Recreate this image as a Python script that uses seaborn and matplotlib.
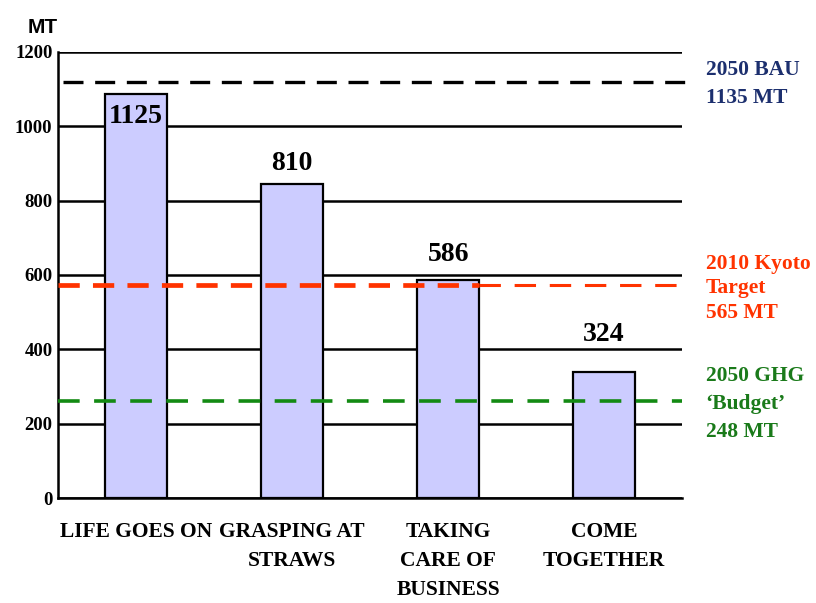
import matplotlib
matplotlib.use("Agg")
import matplotlib.pyplot as plt
import seaborn as sns
import pandas as pd

categories = ["LIFE GOES ON", "GRASPING AT\nSTRAWS", "TAKING\nCARE OF\nBUSINESS", "COME\nTOGETHER"]
bar_heights = [1087, 845, 587, 339]
value_labels = ["1125", "810", "586", "324"]
label_offsets = [-60, 56, 69, 102]   # label centre relative to bar top
y_ticks = [0, 200, 400, 600, 800, 1000, 1200]

bau_level = 1120
kyoto_level = 573
budget_level = 261
bau_text = "2050 BAU\n1135 MT"
kyoto_text = "2010 Kyoto\nTarget\n565 MT"
budget_text = "2050 GHG\n\u2018Budget\u2019\n248 MT"

sns.set_theme(style="white")
plt.rcParams["font.family"] = ["Liberation Serif", "DejaVu Serif"]
plt.rcParams["text.color"] = "black"
plt.rcParams["xtick.color"] = "black"
plt.rcParams["ytick.color"] = "black"
plt.rcParams["xtick.labelcolor"] = "black"
plt.rcParams["ytick.labelcolor"] = "black"

df = pd.DataFrame({"scenario": categories, "mt": bar_heights})

fig = plt.figure(figsize=(8.16, 6.03), dpi=100)
ax = fig.add_axes([0.071, 0.174, 0.765, 0.740])

sns.barplot(data=df, x="scenario", y="mt", color="#CCCCFF", saturation=1,
            edgecolor="black", linewidth=1.6, width=0.40, ax=ax, zorder=2)

ax.set_xlim(-0.5, 3.5)
ax.set_ylim(0, 1200)
ax.set_yticks(y_ticks)
ax.set_yticklabels([str(t) for t in y_ticks], fontsize=13.5, fontweight="bold")
ax.tick_params(axis="y", length=0, pad=4)
ax.yaxis.grid(True, color="black", linewidth=1.8)
ax.set_axisbelow(True)

ax.set_xticks(range(len(categories)))
ax.set_xticklabels(categories, fontsize=15.5, fontweight="bold", linespacing=1.6)
ax.tick_params(axis="x", length=0, pad=17)
ax.set_xticks([0.5, 1.5, 2.5, 3.5], minor=True)
ax.tick_params(axis="x", which="minor", length=6, width=1.5, direction="inout", color="black")
ax.set_xlabel("")
ax.set_ylabel("")

for s in ["top", "right"]:
    ax.spines[s].set_visible(False)
for s in ["left", "bottom"]:
    ax.spines[s].set_color("black")
    ax.spines[s].set_linewidth(1.8)

# value labels
for i, (h, lab, off) in enumerate(zip(bar_heights, value_labels, label_offsets)):
    ax.text(i, h + off, lab, ha="center", va="center", fontsize=20,
            fontweight="bold", color="black", zorder=5)

# reference lines
ax.plot([-0.47, 3.52], [bau_level, bau_level], color="black", lw=2.4,
        dashes=(6, 3.5), clip_on=False, zorder=3)
ax.plot([-0.5, 2.2], [kyoto_level, kyoto_level], color="#FF3300", lw=3.4,
        dashes=(4.5, 2.8), clip_on=False, zorder=4)
ax.plot([2.2, 3.5], [kyoto_level, kyoto_level], color="#FF3300", lw=2.2,
        dashes=(7, 4.5), clip_on=False, zorder=4)
ax.plot([-0.5, 3.5], [budget_level, budget_level], color="#138A13", lw=2.6,
        dashes=(6, 4), clip_on=False, zorder=4)

# right annotations (baseline = last line)
ax.text(3.65, 1063, bau_text, color="#1C2F6E", fontsize=15.5, fontweight="bold",
        va="baseline", ha="left", linespacing=1.5)
ax.text(3.65, 484, kyoto_text, color="#FF3300", fontsize=15.5, fontweight="bold",
        va="baseline", ha="left", linespacing=1.32)
ax.text(3.65, 164, budget_text, color="#1A7A1A", fontsize=15.5, fontweight="bold",
        va="baseline", ha="left", linespacing=1.52)

fig.text(0.034, 0.955, "MT", fontsize=15, fontweight="bold", color="black",
         family=["Liberation Sans", "DejaVu Sans"], ha="left", va="center")

fig.savefig("out.png", dpi=100)
